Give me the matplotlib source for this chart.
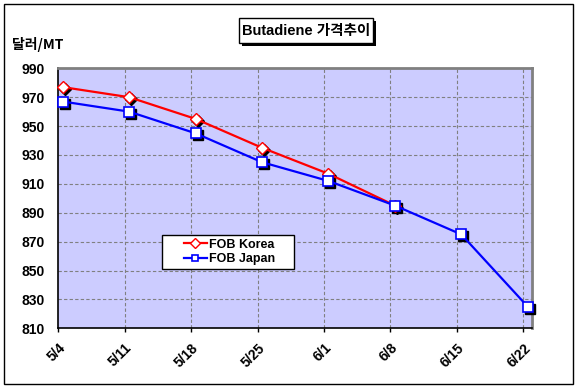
import matplotlib
matplotlib.use("Agg")
import matplotlib.pyplot as plt
import matplotlib.transforms as mtransforms
from matplotlib.patches import Rectangle
from matplotlib.legend_handler import HandlerLine2D

# data
weeks = ["5/4", "5/11", "5/18", "5/25", "6/1", "6/8", "6/15", "6/22"]
fob_korea = [977, 970, 955, 935, 917, 895]
fob_japan = [967, 960, 945, 925, 912, 895, 875, 825]
y_ticks = [810, 830, 850, 870, 890, 910, 930, 950, 970, 990]

days_korea = [7 * i for i in range(len(fob_korea))]
days_japan = [7 * i for i in range(len(fob_japan))]

W, H = 578, 389
fig = plt.figure(figsize=(W / 100, H / 100), dpi=100)
fig.patch.set_facecolor("white")

# outer chart border
fig.add_artist(Rectangle((4 / W, 5 / H), 569 / W, 380 / H, transform=fig.transFigure,
                         fill=False, edgecolor="black", linewidth=1.0))

left, right, top, bottom = 58.3, 531.7, 68.3, 328.3
ax = fig.add_axes((left / W, 1 - bottom / H, (right - left) / W, (bottom - top) / H))
ax.set_facecolor("#CCCCFF")

ax.set_xlim(-0.46, 49.42)
ax.set_ylim(810, 990)
grid_x = [7 * i - 0.46 for i in range(len(weeks))]
ax.set_xticks(grid_x)
ax.set_xticklabels(weeks, rotation=45, ha="right", rotation_mode="anchor",
                   fontfamily="Liberation Sans", fontweight="bold", fontsize=10)
ax.set_yticks(y_ticks)
ax.set_yticklabels([str(v) for v in y_ticks], fontfamily="Liberation Sans",
                   fontweight="bold", fontsize=10)
ax.tick_params(axis="x", length=3, width=1, pad=6)
ax.tick_params(axis="y", length=0, pad=10)

for x in grid_x[1:]:
    ax.axvline(x, color="#808080", linewidth=0.8, linestyle=(0, (3, 2)), zorder=1)
for y in y_ticks[1:-1]:
    ax.axhline(y, color="#808080", linewidth=0.8, linestyle=(0, (3, 2)), zorder=1)

ax.spines["left"].set_color("black")
ax.spines["bottom"].set_color("black")
ax.spines["left"].set_linewidth(1.2)
ax.spines["bottom"].set_linewidth(1.2)
ax.spines["top"].set_color("#808080")
ax.spines["right"].set_color("#808080")
ax.spines["top"].set_linewidth(2)
ax.spines["right"].set_linewidth(2)

shadow = mtransforms.offset_copy(ax.transData, fig=fig, x=2, y=-2, units="dots")

# marker shadows
ax.plot(days_korea, fob_korea, linestyle="none", marker="D", markersize=6,
        color="black", transform=shadow, zorder=3, clip_on=False)
ax.plot(days_japan, fob_japan, linestyle="none", marker="s", markersize=7,
        color="black", transform=shadow, zorder=3, clip_on=False)

ax.plot(days_korea, fob_korea, color="#FF0000", linewidth=1.6, marker="D",
        markersize=6, markerfacecolor="white", markeredgecolor="#FF0000",
        markeredgewidth=1.0, label="FOB Korea", zorder=4, clip_on=False)
ax.plot(days_japan, fob_japan, color="#0000FF", linewidth=1.6, marker="s",
        markersize=7, markerfacecolor="white", markeredgecolor="#0000FF",
        markeredgewidth=1.2, label="FOB Japan", zorder=5, clip_on=False)

# legend: wide box with the sample line pushed right, like the reference
x0 = (162.3 - left) / (right - left)
y1 = (bottom - 235) / (bottom - top)
y0 = (bottom - 268.3) / (bottom - top)
w = 132 / (right - left)
leg = ax.legend(loc="upper left", bbox_to_anchor=(x0, y0, w, y1 - y0), mode="expand",
                frameon=True, fancybox=False, framealpha=1, edgecolor="black",
                prop={"family": "Liberation Sans", "weight": "bold", "size": 9},
                handlelength=3.3, handletextpad=0.15, borderpad=0.3,
                labelspacing=0.2, borderaxespad=0,
                handler_map={plt.Line2D: HandlerLine2D(xpad=1.4)})
leg.get_frame().set_linewidth(1.0)
for h in leg.legend_handles:
    h.set_markersize(5)

# title with box and shadow
fig.add_artist(Rectangle((242 / W, 1 - 46 / H), 134 / W, 25 / H, transform=fig.transFigure,
                         facecolor="black", edgecolor="black", linewidth=0))
fig.add_artist(Rectangle((239 / W, 1 - 43 / H), 134 / W, 25 / H, transform=fig.transFigure,
                         facecolor="white", edgecolor="black", linewidth=1.0))
fig.text(306 / W, 1 - 30.5 / H, "Butadiene 가격추이", ha="center", va="center",
         family=["Liberation Sans", "Noto Sans CJK KR"], fontweight="bold", fontsize=10.5)

fig.text(12 / W, 1 - 45 / H, "달러/MT", ha="left", va="center",
         family=["Noto Sans CJK KR", "Liberation Sans"], fontweight="bold", fontsize=10)

fig.savefig("out.png", dpi=100)
